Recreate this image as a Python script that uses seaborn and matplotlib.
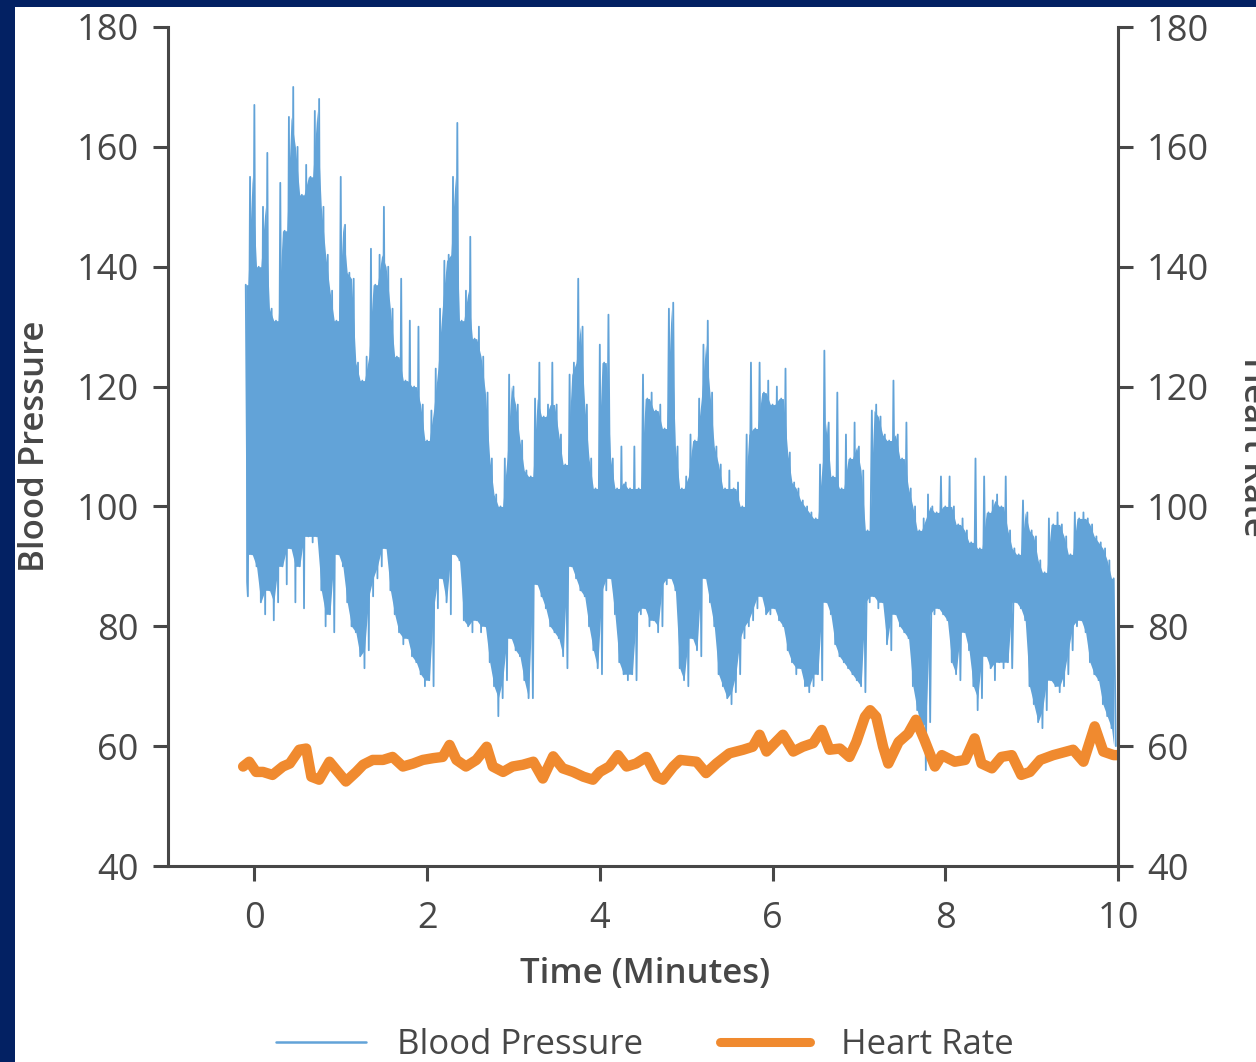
import numpy as np
import pandas as pd
import matplotlib
matplotlib.use("Agg")
import matplotlib.pyplot as plt
from matplotlib.lines import Line2D
from matplotlib.patches import Rectangle
import seaborn as sns

# Beat-to-beat blood pressure (mmHg), one systolic/diastolic pair every 0.05 min
bp_start = -0.10
bp_step = 0.05
systolic = [
    137, 155, 167, 140, 150, 159, 133, 131, 154, 146, 165, 170, 160, 152, 157, 155, 166, 168, 150, 142, 136, 131,
    155, 147, 139, 138, 124, 121, 125, 143, 137, 142, 150, 140, 133, 125, 138, 121, 131, 120, 130, 117,
    111, 116, 123, 133, 141, 142, 155, 164, 131, 136, 145, 128, 130, 125, 119, 108, 102, 100, 108, 122,
    120, 117, 111, 106, 105, 118, 124, 115, 117, 124, 117, 112, 107, 122, 124, 138, 130, 117, 108, 103,
    127, 124, 132, 108, 103, 110, 104, 103, 110, 103, 122, 118, 119, 116, 117, 113, 133, 134, 110, 103,
    105, 112, 111, 118, 127, 131, 119, 110, 107, 103, 106, 103, 104, 100, 112, 124, 113, 124, 119, 121,
    117, 120, 118, 123, 109, 104, 103, 101, 100, 99, 98, 107, 126, 114, 105, 119, 103, 112, 108, 114,
    110, 106, 96, 116, 117, 115, 112, 111, 121, 112, 108, 114, 103, 100, 96, 98, 102, 100, 99, 105,
    100, 105, 100, 97, 98, 96, 94, 108, 93, 105, 99, 101, 102, 100, 105, 96, 93, 92, 101, 99,
    96, 95, 91, 89, 98, 97, 99, 97, 95, 92, 99, 98, 99, 98, 97, 95, 94, 93, 91, 88,
]
diastolic = [
    85, 92, 90, 84, 82, 86, 81, 84, 90, 87, 93, 84, 90, 83, 95, 94, 95, 86, 80, 82, 79, 92,
    90, 84, 80, 79, 75, 73, 76, 85, 88, 90, 93, 86, 82, 79, 77, 78, 75, 74, 72, 70,
    71, 70, 83, 88, 84, 82, 92, 91, 81, 80, 79, 81, 79, 80, 74, 70, 65, 68, 71, 78,
    76, 75, 71, 68, 68, 87, 85, 83, 80, 79, 78, 75, 73, 90, 88, 86, 85, 80, 76, 73,
    72, 86, 88, 82, 74, 72, 71, 72, 71, 82, 83, 80, 81, 79, 80, 87, 88, 86, 73, 71,
    70, 78, 76, 75, 88, 84, 80, 72, 70, 68, 67, 69, 72, 78, 80, 81, 83, 85, 82, 82,
    83, 81, 80, 76, 74, 72, 73, 70, 69, 70, 72, 71, 84, 82, 77, 75, 74, 73, 72, 71,
    70, 69, 84, 85, 83, 84, 77, 76, 82, 80, 79, 78, 70, 66, 63, 56, 64, 82, 83, 82,
    81, 74, 72, 71, 79, 76, 70, 66, 68, 75, 73, 71, 74, 73, 74, 73, 84, 83, 81, 70,
    67, 64, 63, 66, 71, 70, 69, 70, 72, 76, 80, 81, 79, 74, 72, 71, 67, 65, 63, 60,
]

# Heart rate (beats/min)
hr_time = [
    -0.13, -0.06, 0.02, 0.10, 0.21, 0.33, 0.41, 0.52, 0.60, 0.66, 0.75, 0.87, 0.95, 1.06, 1.18, 1.26,
    1.37, 1.49, 1.60, 1.72, 1.84, 1.95, 2.07, 2.18, 2.26, 2.34, 2.45, 2.57, 2.69, 2.76, 2.88, 2.99,
    3.11, 3.23, 3.34, 3.46, 3.57, 3.69, 3.81, 3.92, 4.00, 4.11, 4.21, 4.31, 4.42, 4.54, 4.66, 4.73,
    4.85, 4.93, 5.12, 5.23, 5.35, 5.50, 5.66, 5.77, 5.85, 5.93, 6.12, 6.24, 6.35, 6.47, 6.57, 6.66,
    6.78, 6.89, 6.97, 7.07, 7.13, 7.20, 7.28, 7.34, 7.46, 7.57, 7.66, 7.76, 7.88, 7.96, 8.11, 8.23,
    8.34, 8.42, 8.54, 8.65, 8.77, 8.88, 8.98, 9.10, 9.25, 9.48, 9.60, 9.73, 9.83, 9.95, 10.0,
]
heart_rate = [
    56.6, 57.4, 55.7, 55.7, 55.2, 56.6, 57.1, 59.4, 59.6, 54.9, 54.4, 57.4, 56.0, 54.1, 55.7, 56.9,
    57.7, 57.7, 58.2, 56.6, 57.1, 57.7, 58.0, 58.2, 60.2, 57.7, 56.6, 57.7, 59.9, 56.6, 55.7, 56.6,
    56.9, 57.4, 54.6, 58.3, 56.3, 55.7, 54.9, 54.4, 55.7, 56.6, 58.5, 56.6, 57.1, 58.2, 54.9, 54.4,
    56.6, 57.7, 57.4, 55.5, 57.1, 58.8, 59.4, 59.9, 61.9, 59.1, 61.9, 59.1, 59.9, 60.5, 62.7, 59.4,
    59.6, 58.2, 60.7, 64.9, 66.0, 64.9, 59.9, 57.1, 60.7, 62.1, 64.4, 61.0, 56.6, 58.5, 57.4, 57.7,
    61.3, 57.1, 56.3, 58.2, 58.5, 55.2, 55.7, 57.7, 58.5, 59.4, 57.4, 63.3, 59.1, 58.5, 58.5,
]

x_ticks = [0, 2, 4, 6, 8, 10]
y_ticks = [40, 60, 80, 100, 120, 140, 160, 180]
series_names = ["Blood Pressure", "Heart Rate"]

BLUE = "#62a3d8"
ORANGE = "#f08a2f"
NAVY = "#032163"
INK = "#474747"

sns.set_theme(style="ticks")
plt.rcParams["font.family"] = ["Open Sans", "DejaVu Sans"]

# Each beat is drawn as a systolic peak followed by a diastolic trough
beat_t = bp_start + bp_step * np.arange(len(systolic))
sys_arr = np.asarray(systolic, dtype=float)
dia_arr = np.asarray(diastolic, dtype=float)
trace_t = np.empty(2 * len(beat_t))
trace_v = np.empty(2 * len(beat_t))
trace_t[0::2] = beat_t
trace_t[1::2] = beat_t + bp_step / 2
trace_v[0::2] = sys_arr
trace_v[1::2] = dia_arr
bp_df = pd.DataFrame({"time": trace_t, "pressure": trace_v})
hr_df = pd.DataFrame({"time": hr_time, "rate": heart_rate})

# Solid body of the pressure band: the range shared by each pair of neighbouring beats
core_t = np.concatenate([[beat_t[0]], beat_t[:-1] + bp_step / 2, [beat_t[-1]]])
core_top = np.concatenate([[sys_arr[0]], np.minimum(sys_arr[:-1], sys_arr[1:]), [sys_arr[-1]]])
core_bot = np.concatenate([[dia_arr[0]], np.maximum(dia_arr[:-1], dia_arr[1:]), [dia_arr[-1]]])

fig = plt.figure(figsize=(12.56, 10.62), dpi=100)
fig.patch.set_facecolor(NAVY)
fig.add_artist(Rectangle((15 / 1256, 0), 1, 1 - 7 / 1062, transform=fig.transFigure,
                         facecolor="white", edgecolor="none", zorder=-10))

ax = fig.add_axes([168 / 1256, 1 - 866 / 1062, 950 / 1256, 839 / 1062])
ax.patch.set_alpha(0)

ax.fill_between(core_t, core_bot, core_top, color=BLUE, linewidth=0)
sns.lineplot(data=bp_df, x="time", y="pressure", sort=False, estimator=None,
             color=BLUE, linewidth=1.3, ax=ax)

ax2 = ax.twinx()
sns.lineplot(data=hr_df, x="time", y="rate", sort=False, estimator=None,
             color=ORANGE, linewidth=7.5, ax=ax2, solid_capstyle="round",
             solid_joinstyle="round")

for a in (ax, ax2):
    a.set_xlim(-1, 10)
    a.set_ylim(40, 180)
    a.set_yticks(y_ticks)
    a.set_yticklabels([str(v) for v in y_ticks])
    a.spines["top"].set_visible(False)
    for s in ("left", "right", "bottom"):
        a.spines[s].set_linewidth(2.2)
        a.spines[s].set_color(INK)

ax.set_xticks(x_ticks)
ax.set_xticklabels([str(v) for v in x_ticks])
ax.spines["right"].set_visible(False)
ax2.spines["left"].set_visible(False)
ax2.spines["bottom"].set_visible(False)

ax.tick_params(axis="both", length=11, width=2.2, color=INK, labelcolor=INK,
               labelsize=26, pad=10)
ax.tick_params(axis="x", pad=14)
ax2.tick_params(axis="y", length=11, width=2.2, color=INK, labelcolor=INK,
                labelsize=26, pad=10)

ax.set_xlabel("Time (Minutes)", fontsize=25, fontweight="semibold", color=INK)
ax.xaxis.set_label_coords(0.502, -0.108)
ax.set_ylabel("Blood Pressure", fontsize=25, fontweight="semibold", color=INK)
ax.yaxis.set_label_coords(-0.122, 0.5)
ax2.set_ylabel("Heart Rate", fontsize=25, fontweight="semibold", color=INK,
               rotation=270, va="center", ha="center")
ax2.yaxis.set_label_coords(1.142, 0.5)

handles = [Line2D([], [], color=BLUE, linewidth=1.8),
           Line2D([], [], color=ORANGE, linewidth=6.5, solid_capstyle="round")]
leg = fig.legend(handles, series_names, loc="center", bbox_to_anchor=(645 / 1256, 1 - 1045 / 1062),
                 ncol=2, frameon=False, fontsize=25, handlelength=2.6, handletextpad=0.9,
                 columnspacing=2.2)
for t in leg.get_texts():
    t.set_color(INK)

fig.savefig("out.png", dpi=100, facecolor=fig.get_facecolor())
